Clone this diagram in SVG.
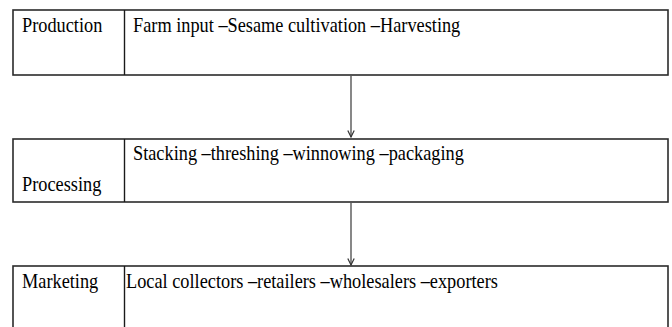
<svg xmlns="http://www.w3.org/2000/svg" width="672" height="327" viewBox="0 0 672 327">
<defs>
<style>
.box{fill:#fff;stroke:#2b2b2b;stroke-width:1.6}
.div{stroke:#1a1a1a;stroke-width:1.4}
.t{font-family:'Liberation Serif','Times New Roman',serif;font-size:18.3px;fill:#000}
.c{stroke:#555;stroke-width:1.4;fill:none}
</style>
<marker id="ah" viewBox="0 0 10 10" refX="9" refY="5" markerWidth="8" markerHeight="8" markerUnits="userSpaceOnUse" orient="auto">
<path d="M1,1 L9,5 L1,9" fill="none" stroke="#333" stroke-width="1.5"/>
</marker>
</defs>
<rect width="672" height="327" fill="#fff"/>
<g id="production">
<rect class="box" x="13" y="10" width="655" height="65"/>
<line class="div" x1="124.5" y1="10" x2="124.5" y2="75"/>
<text class="t" x="22" y="32" transform="translate(22 32) scale(1 1.15) translate(-22 -32)">Production</text>
<text class="t" x="133" y="32" transform="translate(133 32) scale(1 1.15) translate(-133 -32)">Farm input –Sesame cultivation –Harvesting</text>
</g>
<g id="processing">
<rect class="box" x="13" y="139" width="655" height="63"/>
<line class="div" x1="124.5" y1="139" x2="124.5" y2="202"/>
<text class="t" x="22" y="191" transform="translate(22 191) scale(1 1.15) translate(-22 -191)">Processing</text>
<text class="t" x="133" y="160" transform="translate(133 160) scale(1 1.15) translate(-133 -160)">Stacking –threshing –winnowing –packaging</text>
</g>
<g id="marketing">
<rect class="box" x="13" y="266" width="655" height="80"/>
<line class="div" x1="124.5" y1="266" x2="124.5" y2="346"/>
<text class="t" x="22" y="288" transform="translate(22 288) scale(1 1.15) translate(-22 -288)">Marketing</text>
<text class="t" x="126" y="288" transform="translate(126 288) scale(1 1.15) translate(-126 -288)">Local collectors –retailers –wholesalers –exporters</text>
</g>
<g id="connectors">
<line class="c" x1="351" y1="75.8" x2="351" y2="137" marker-end="url(#ah)"/>
<line class="c" x1="351" y1="202.8" x2="351" y2="265" marker-end="url(#ah)"/>
</g>
</svg>
